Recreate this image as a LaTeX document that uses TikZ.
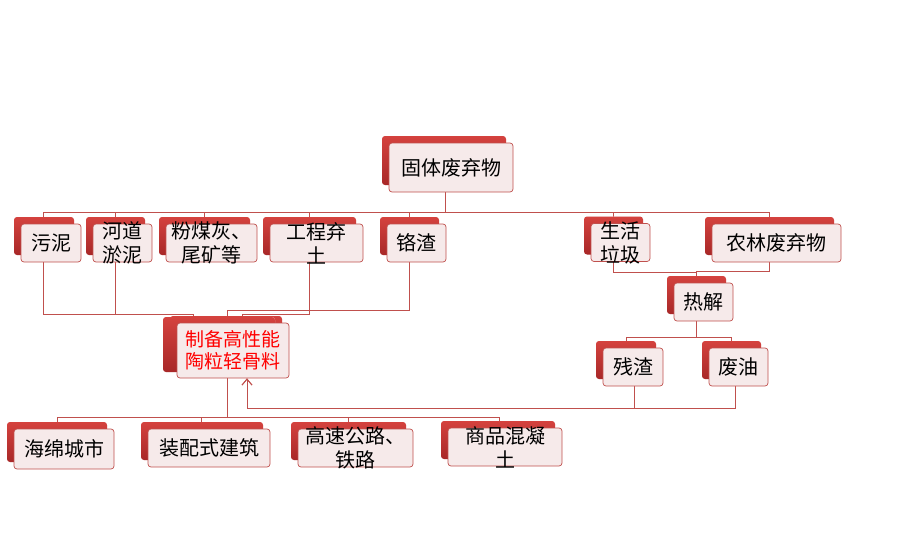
\documentclass[tikz,border=0pt]{standalone}
\usepackage{fontspec}
\newfontfamily\cjk{Noto Sans CJK SC}
\usepackage{tikz}
\usetikzlibrary{shadows,backgrounds,arrows.meta}

\definecolor{edge}{RGB}{192,80,77}
\definecolor{pale}{RGB}{246,234,234}
\definecolor{redtop}{RGB}{212,66,62}
\definecolor{redbot}{RGB}{168,40,40}
\definecolor{hot}{RGB}{255,0,0}

\tikzset{
  front/.style = {draw=edge, fill=pale, rounded corners=3pt, line width=0.7pt, inner sep=0pt,
    minimum width=#1, minimum height=38pt,
    copy shadow={shadow xshift=-7pt, shadow yshift=7pt, draw=none, top color=redtop, bottom color=redbot}},
  front/.default = 59pt,
  txt/.style = {align=center, inner sep=0pt, font=\cjk\fontsize{20}{24}\selectfont},
  link/.style = {draw=edge, line width=0.9pt},
}

\begin{document}
\begin{tikzpicture}[x=1pt, y=-1pt]
            \useasboundingbox (0,0) rectangle (917,543);
            % Nodes
            \node[front=124pt, minimum height=49pt, label={[txt]center:固体废弃物}] (solid) at (451,167.5) {};
            \node[front=60pt, label={[txt]center:污泥}] (sludge) at (51,243) {};
            \node[front, label={[txt]center:河道\\淤泥}] (river) at (122.5,243) {};
            \node[front=91pt, label={[txt]center:粉煤灰、\\尾矿等}] (ash) at (211.5,243) {};
            \node[front=93pt, label={[txt]center:工程弃\\土}] (soil) at (316.5,243) {};
            \node[front, label={[txt]center:铬渣}] (chrome) at (416.5,243) {};
            \node[front, label={[txt]center:生活\\垃圾}] (garbage) at (620.5,242.5) {};
            \node[front=129pt, label={[txt]center:农林废弃物}] (agri) at (776.5,243) {};
            \node[front, label={[txt]center:热解}] (pyro) at (703.5,302) {};
            \node[front=60pt, label={[txt]center:残渣}] (residue) at (633,367) {};
            \node[front, label={[txt]center:废油}] (oil) at (738.5,367) {};
            \node[front=112pt, minimum height=55pt,
              copy shadow={shadow xshift=-14pt, shadow yshift=6pt, draw=none, top color=redtop, bottom color=redbot},
              label={[txt, text=hot, font=\cjk\fontsize{19}{22}\selectfont]center:制备高性能\\陶粒轻骨料}] (ceram) at (233,350.5) {};
            \node[front=100pt, minimum height=40pt, label={[txt]center:海绵城市}] (sponge) at (64,449) {};
            \node[front=122pt, label={[txt]center:装配式建筑}] (prefab) at (209,448) {};
            \node[front=115pt, label={[txt]center:高速公路、\\铁路}] (road) at (355.5,448) {};
            \node[front=114pt, label={[txt]center:商品混凝\\土}] (concrete) at (505,447) {};
            % Edges
            \begin{scope}[on background layer]
            \draw[link] ([xshift=-6pt]solid.south) -- ++(0,20) -| ([xshift=-8pt]sludge.north);
            \draw[link] ([xshift=-6pt]solid.south) -- ++(0,20) -| ([xshift=-7pt]river.north);
            \draw[link] ([xshift=-6pt]solid.south) -- ++(0,20) -| ([xshift=-7pt]ash.north);
            \draw[link] ([xshift=-6pt]solid.south) -- ++(0,20) -| ([xshift=-7pt]soil.north);
            \draw[link] ([xshift=-6pt]solid.south) -- ++(0,20) -| ([xshift=-7pt]chrome.north);
            \draw[link] ([xshift=-6pt]solid.south) -- ++(0,20) -| ([xshift=-7pt]garbage.north);
            \draw[link] ([xshift=-6pt]solid.south) -- ++(0,20) -| ([xshift=-7pt]agri.north);
            \draw[link] ([xshift=-8pt]sludge.south) -- ++(0,52) -| ([xshift=-40pt]ceram.north);
            \draw[link] ([xshift=-7pt]river.south) -- ++(0,52) -| ([xshift=-40pt]ceram.north);
            \draw[link] ([xshift=-7pt]soil.south) -- ++(0,52) -| ([xshift=9pt]ceram.north);
            \draw[link] ([xshift=-7pt]chrome.south) -- ++(0,48) -| ([xshift=-6pt]ceram.north);
            \draw[link] ([xshift=-7pt]garbage.south) -- ++(0,11) -| ([xshift=-7pt]pyro.north);
            \draw[link] ([xshift=-7pt]agri.south) -- ++(0,9) -| ([xshift=-7pt]pyro.north);
            \draw[link] ([xshift=-7pt]pyro.south) -- ++(0,16) -| ([xshift=-7pt]residue.north);
            \draw[link] ([xshift=-7pt]pyro.south) -- ++(0,16) -| ([xshift=-7pt]oil.north);
            \draw[link, -{Straight Barb[length=6pt, width=10pt]}] ([xshift=1pt]residue.south) -- ++(0,22) -| ([xshift=14pt]ceram.south);
            \draw[link, -{Straight Barb[length=6pt, width=10pt]}] ([xshift=-3pt]oil.south) -- ++(0,22) -| ([xshift=14pt]ceram.south);
            \draw[link] ([xshift=-6pt]ceram.south) -- ++(0,39) -| ([xshift=-7pt]sponge.north);
            \draw[link] ([xshift=-6pt]ceram.south) -- ++(0,39) -| ([xshift=-8pt]prefab.north);
            \draw[link] ([xshift=-6pt]ceram.south) -- ++(0,39) -| ([xshift=-7pt]road.north);
            \draw[link] ([xshift=-6pt]ceram.south) -- ++(0,39) -| ([xshift=-6pt]concrete.north);
            \end{scope}
\end{tikzpicture}
\end{document}
